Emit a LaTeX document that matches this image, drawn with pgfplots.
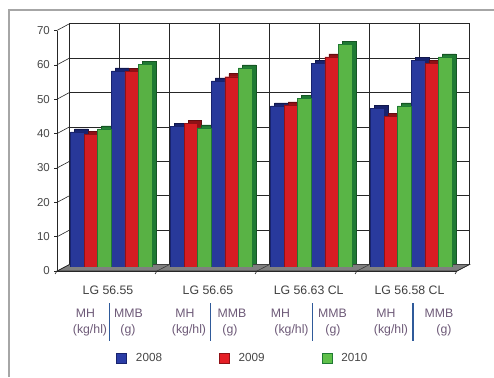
\documentclass[border=0pt]{standalone}
\usepackage{pgfplots}
\pgfplotsset{compat=1.18}
\usepackage{pgfplotstable}
\usepackage{fontspec}
\setmainfont{Liberation Sans}

\definecolor{cBlue}{HTML}{2B3DA6}
\definecolor{cBlueD}{HTML}{18236E}
\definecolor{cRed}{HTML}{E51E25}
\definecolor{cRedD}{HTML}{8F1116}
\definecolor{cGreen}{HTML}{5FC04A}
\definecolor{cGreenD}{HTML}{1F7A33}
\definecolor{cTxt}{HTML}{6E5A78}
\definecolor{cSep}{HTML}{2F5A9A}

% x = position of the MH / MMB bar set of each hybrid (group width = 1)
\pgfplotstableread{
x      y08  y09  y10
0.3385 40.5 39.8 41.4
0.7465 58.3 58.1 60.2
1.3385 42.2 43.0 41.7
1.7465 55.4 56.6 59.2
2.3385 48.1 48.4 50.3
2.7465 60.5 62.4 66.1
3.3385 47.4 45.1 48.1
3.7465 61.3 60.5 62.4
}\data

\begin{document}
\begin{tikzpicture}
\useasboundingbox (0pt,0pt) rectangle (494pt,377pt);
\fill[white] (0pt,0pt) rectangle (494pt,377pt);
\draw[black!35, line width=1.3pt] (9pt,0pt) -- (9pt,367pt) -- (494pt,367pt);

% back wall with grid, floor and side-wall lines
\begin{axis}[at={(69.5pt,112.5pt)}, anchor=south west, scale only axis,
  width=400pt, height=240.8pt, xmin=0, xmax=8, ymin=0, ymax=70,
  xtick={0,...,8}, ytick={0,10,...,70}, xticklabels={}, yticklabels={},
  major tick length=0pt, grid=major,
  major grid style={draw=black!85, line width=0.6pt},
  axis line style={draw=black!85, line width=0.6pt}, clip=false]
  \filldraw[fill=black!50, draw=black!80, line width=0.5pt]
    (axis cs:0,0) -- (axis cs:8,0) -- ([shift={(-12.5pt,-6.5pt)}]axis cs:8,0)
    -- ([shift={(-12.5pt,-6.5pt)}]axis cs:0,0) -- cycle;
  \pgfplotsinvokeforeach{0,10,...,70}{\draw[black!85, line width=0.6pt] (axis cs:0,#1) -- ++(-12.5pt,-6.7pt);}
  \pgfplotsinvokeforeach{2,4,6}{\draw[black!80, line width=0.5pt] (axis cs:#1,0) -- ++(-12.5pt,-6.5pt);}
\end{axis}

% bar depth (side and top faces)
\begin{axis}[at={(61pt,113pt)}, anchor=south west, scale only axis,
  width=400pt, height=240.3pt, xmin=0, xmax=4, ymin=1.165, ymax=71.165,
  hide axis, ybar, bar width=13.55pt]
  \addplot[fill=cBlueD, draw=cBlueD!70!black, line width=0.4pt, bar shift=-13.55pt] table[x=x,y=y08]{\data};
  \addplot[fill=cRedD, draw=cRedD!70!black, line width=0.4pt, bar shift=0pt] table[x=x,y=y09]{\data};
  \addplot[fill=cGreenD, draw=cGreenD!70!black, line width=0.4pt, bar shift=13.55pt] table[x=x,y=y10]{\data};
\end{axis}

% bar front faces
\begin{axis}[at={(57pt,110pt)}, anchor=south west, scale only axis,
  width=400pt, height=240.3pt, xmin=0, xmax=4, ymin=1.165, ymax=71.165,
  hide axis, ybar, bar width=13.55pt]
  \addplot[left color=cBlue!92!black, middle color=cBlue!92!white, right color=cBlue!95!black, draw=cBlueD, line width=0.4pt, bar shift=-13.55pt] table[x=x,y=y08]{\data};
  \addplot[left color=cRed!92!black, middle color=cRed!94!white, right color=cRed!95!black, draw=cRedD, line width=0.4pt, bar shift=0pt] table[x=x,y=y09]{\data};
  \addplot[left color=cGreen!92!black, middle color=cGreen!94!white, right color=cGreen!95!black, draw=cGreenD, line width=0.4pt, bar shift=13.55pt] table[x=x,y=y10]{\data};
\end{axis}

% front axes, ticks, labels, legend
\begin{axis}[at={(57pt,106pt)}, anchor=south west, scale only axis,
  width=400pt, height=240.3pt, xmin=0, xmax=4, ymin=0, ymax=70,
  axis x line=bottom, axis y line=left,
  axis line style={-, draw=black!85, line width=0.6pt},
  ytick={0,10,...,70}, tick align=outside, major tick length=3pt,
  y tick style={draw=black!85, line width=0.6pt},
  /pgf/number format/assume math mode=true,
  yticklabel style={font=\fontsize{11.5}{13}\selectfont, text=black!72, anchor=east, inner sep=0pt, xshift=-4pt},
  xtick={0.51,1.51,2.517,3.525},
  xticklabels={LG 56.55, LG 56.65, LG 56.63 CL, LG 56.58 CL},
  x tick style={draw=none},
  xticklabel style={font=\fontsize{12.3}{14}\selectfont, text=black!75, anchor=center, inner sep=0pt, yshift=-16.3pt},
  clip=false,
  legend style={at={(0.4621,-0.362)}, anchor=center, draw=none, fill=none,
    legend columns=3, font=\fontsize{11.7}{13}\selectfont, text=black!72,
    inner sep=0pt, nodes={inner sep=0pt},
    /tikz/every odd column/.append style={column sep=9pt},
    /tikz/every even column/.append style={column sep=57pt}},
  legend image code/.code={\draw[#1] (0pt,-5pt) rectangle (10pt,5pt);}]
  \addlegendimage{fill=cBlue, draw=cBlueD, line width=0.6pt}
  \addlegendentry{2008}
  \addlegendimage{fill=cRed, draw=cRedD, line width=0.6pt}
  \addlegendentry{2009}
  \addlegendimage{fill=cGreen, draw=cGreenD, line width=0.6pt}
  \addlegendentry{2010}
  \pgfplotsinvokeforeach{0,...,4}{\draw[black!85, line width=0.6pt] (axis cs:#1,0) -- ++(-2pt,-3pt);}
  \draw[black!85, line width=0.6pt] (axis cs:4,0) -- ++(12.5pt,6.5pt);
\end{axis}

% sub-labels under each hybrid
\begin{scope}[every node/.style={font=\fontsize{12.3}{14}\selectfont, text=cTxt, inner sep=0pt}]
  \node at (85.5pt,64pt) {MH};   \node at (90pt,47pt) {(kg/hl)};
  \node at (128.5pt,64pt) {MMB}; \node at (128pt,47pt) {(g)};
  \node at (185pt,64pt) {MH};    \node at (189pt,47pt) {(kg/hl)};
  \node at (232pt,64pt) {MMB};   \node at (230pt,47pt) {(g)};
  \node at (280.5pt,64pt) {MH};  \node at (291.5pt,47pt) {(kg/hl)};
  \node at (332.5pt,64pt) {MMB}; \node at (333pt,47pt) {(g)};
  \node at (386pt,64pt) {MH};    \node at (391pt,47pt) {(kg/hl)};
  \node at (439pt,64pt) {MMB};   \node at (444pt,47pt) {(g)};
\end{scope}
\draw[cSep, line width=1.1pt] (109.3pt,74pt) -- (109.3pt,36pt);
\draw[cSep, line width=1.1pt] (210.7pt,74pt) -- (210.7pt,36pt);
\draw[cSep, line width=1.1pt] (312.7pt,74pt) -- (312.7pt,36pt);
\draw[cSep, line width=1.1pt] (413pt,74pt) -- (413pt,36pt);
\end{tikzpicture}
\end{document}
